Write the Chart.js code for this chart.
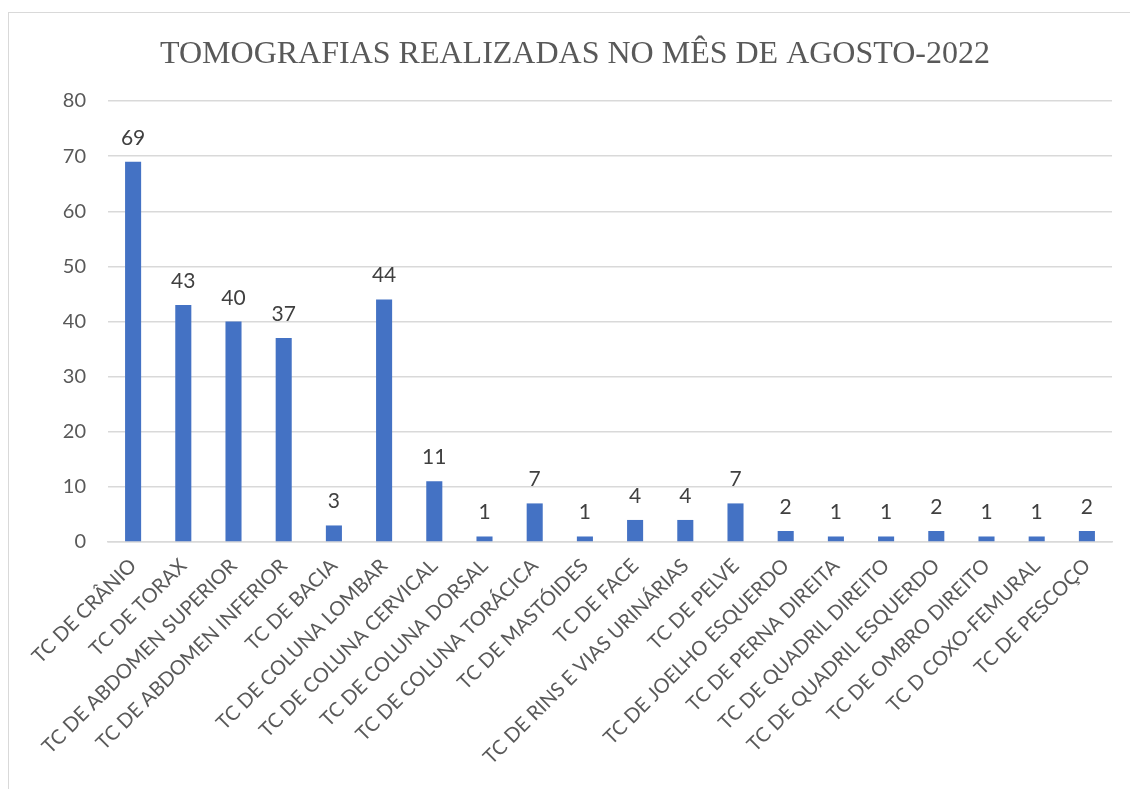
<!DOCTYPE html>
<html>
<head>
<meta charset="utf-8">
<script src="https://cdn.jsdelivr.net/npm/chart.js@4"></script>
<style>
  body { margin: 0; background: #fff; }
  #frame {
    position: absolute; left: 8px; top: 12px; width: 1122px; height: 777px;
    border-left: 1px solid #d9d9d9; border-top: 1px solid #d9d9d9;
  }
  #wrap { position: absolute; left: 0; top: 0; width: 1130px; height: 789px; }
</style>
</head>
<body>
<div id="frame"></div>
<div id="wrap"><canvas id="tcChart"></canvas></div>
<script>
const categories = [
  "TC DE CRÂNIO", "TC DE TORAX", "TC DE ABDOMEN SUPERIOR", "TC DE ABDOMEN INFERIOR",
  "TC DE BACIA", "TC DE COLUNA LOMBAR", "TC DE COLUNA CERVICAL", "TC DE COLUNA DORSAL",
  "TC DE COLUNA TORÁCICA", "TC DE MASTÓIDES", "TC DE FACE", "TC DE RINS E VIAS URINÁRIAS",
  "TC DE PELVE", "TC DE JOELHO ESQUERDO", "TC DE PERNA DIREITA", "TC DE QUADRIL DIREITO",
  "TC DE QUADRIL ESQUERDO", "TC DE OMBRO DIREITO", "TC D COXO-FEMURAL", "TC DE PESCOÇO"
];
const counts = [69, 43, 40, 37, 3, 44, 11, 1, 7, 1, 4, 4, 7, 2, 1, 1, 2, 1, 1, 2];
const yTicks = [0, 10, 20, 30, 40, 50, 60, 70, 80];
const chartTitle = "TOMOGRAFIAS REALIZADAS NO MÊS DE AGOSTO-2022";

const TEXT = "#595959";

// title drawn by hand so it can sit where the original one sits
const titleText = {
  id: "titleText",
  afterDraw(chart) {
    const ctx = chart.ctx;
    ctx.save();
    ctx.font = "32px 'Liberation Serif'";
    ctx.fillStyle = TEXT;
    ctx.textAlign = "center";
    ctx.textBaseline = "alphabetic";
    ctx.fillText(chartTitle, 575, 63);
    ctx.restore();
  }
};

// value labels above the bars
const barLabels = {
  id: "barLabels",
  afterDatasetsDraw(chart) {
    const ctx = chart.ctx;
    const meta = chart.getDatasetMeta(0);
    ctx.save();
    ctx.font = "21px Lato";
    ctx.fillStyle = "#404040";
    ctx.textAlign = "center";
    ctx.textBaseline = "alphabetic";
    meta.data.forEach((bar, i) => {
      ctx.fillText(String(counts[i]), bar.x, bar.y - 17);
    });
    ctx.restore();
  }
};

new Chart(document.getElementById("tcChart"), {
  type: "bar",
  data: {
    labels: categories,
    datasets: [{
      data: counts,
      backgroundColor: "#4472C4",
      categoryPercentage: 1,
      barPercentage: 0.32
    }]
  },
  options: {
    responsive: true,
    maintainAspectRatio: false,
    animation: false,
    layout: { padding: { left: 10, right: 18, top: 101, bottom: 0 } },
    plugins: {
      legend: { display: false },
      tooltip: { enabled: false },
      title: { display: false }
    },
    scales: {
      x: {
        grid: { display: false },
        border: { color: "#d9d9d9", width: 1.5 },
        ticks: {
          color: TEXT,
          font: { family: "Lato", size: 20 },
          minRotation: 45,
          maxRotation: 45,
          autoSkip: false,
          padding: 4
        },
        afterFit(scale) { scale.height = 247; }
      },
      y: {
        min: 0,
        max: 80,
        border: { display: false },
        grid: { color: "#d9d9d9", lineWidth: 1.5, drawTicks: false },
        afterBuildTicks(scale) { scale.ticks = yTicks.map(v => ({ value: v })); },
        ticks: {
          color: TEXT,
          font: { family: "Lato", size: 20 },
          padding: 22
        },
        afterFit(scale) { scale.width = 98; }
      }
    }
  },
  plugins: [barLabels, titleText]
});
</script>
</body>
</html>
